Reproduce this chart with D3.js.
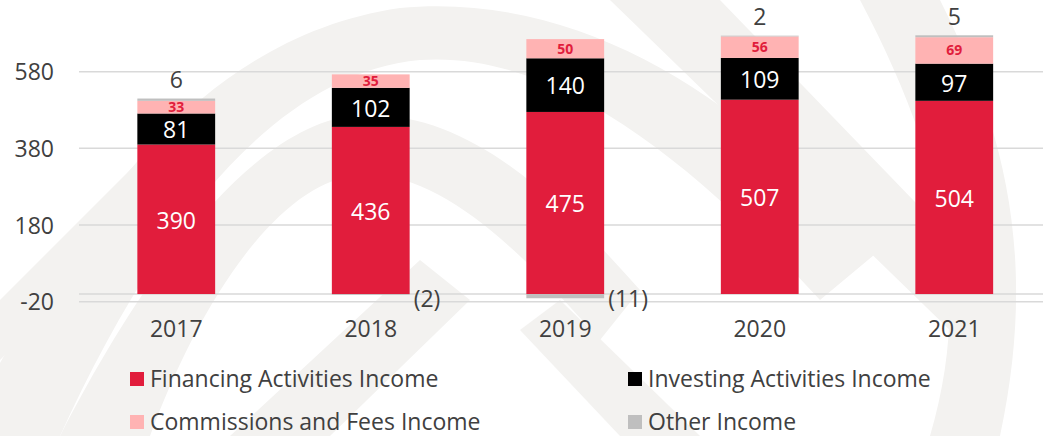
<!DOCTYPE html>
<html>
<head>
<meta charset="utf-8">
<script src="https://cdn.jsdelivr.net/npm/d3@7"></script>
<style>
  html, body { margin: 0; padding: 0; background: #fff; }
  svg { display: block; font-family: "Open Sans", sans-serif; }
</style>
</head>
<body>
<svg id="chart" width="1043" height="436"></svg>
<script>
// Data
const years = ['2017', '2018', '2019', '2020', '2021'];
const financing = [390, 436, 475, 507, 504];
const investing = [81, 102, 140, 109, 97];
const commissions = [33, 35, 50, 56, 69];
const other = [6, -2, -11, 2, 5];
const yTicks = [-20, 180, 380, 580];

const seriesNames = ['Financing Activities Income', 'Investing Activities Income',
                     'Commissions and Fees Income', 'Other Income'];
const keys = ['financing', 'investing', 'commissions', 'other'];
const colors = {
    financing: '#E11D3C',
    investing: '#000000',
    commissions: '#FFB3B3',
    other: '#BFBFBF'
};

const rows = years.map((y, i) => ({
    year: y,
    financing: financing[i],
    investing: investing[i],
    commissions: commissions[i],
    other: other[i]
}));

const svg = d3.select('#chart');
const W = 1043, H = 436;
const FS = 23;

// Faint logo watermark in the background
const wm = svg.append('g').attr('fill', '#F3F2F0').attr('stroke', 'none');
wm.append('path')
    .attr('d', 'M -40,436 C 60,250 180,40 400,8 C 600,-10 760,120 880,250 L 820,300 C 700,170 560,50 420,60 C 260,75 140,260 60,436 Z');
wm.append('path')
    .attr('d', 'M 60,436 C 150,260 260,120 360,115 C 470,110 560,200 640,290 L 600,340 C 520,250 440,170 360,175 C 280,180 200,300 150,436 Z');
wm.append('path')
    .attr('d', 'M 610,0 L 720,0 L 1000,290 L 960,340 Z');
wm.append('path')
    .attr('d', 'M 860,0 L 940,0 C 1000,120 1040,250 1000,436 L 930,436 C 970,300 950,170 860,0 Z');
wm.append('path')
    .attr('d', 'M 0,300 L 0,360 L 200,160 L 170,130 Z');
wm.append('path')
    .attr('d', 'M 230,436 L 330,436 L 470,300 L 420,260 Z');
wm.append('path')
    .attr('d', 'M 620,436 L 700,436 L 560,300 L 520,330 Z');

// Scales
const x = d3.scaleBand()
    .domain(years)
    .range([79, 1051.5])
    .paddingInner(0.6)
    .paddingOuter(0.3);

const y = d3.scaleLinear()
    .domain([-20, 580])
    .range([301.7, 71.7]);

// Gridlines (ticks plus the zero baseline)
svg.append('g')
    .selectAll('line')
    .data(yTicks.concat([0]))
    .join('line')
    .attr('x1', 79)
    .attr('x2', W)
    .attr('y1', d => y(d))
    .attr('y2', d => y(d))
    .attr('stroke', '#D9D9D9')
    .attr('stroke-width', 1.5);

// Y axis labels
const yAxis = d3.axisLeft(y).tickValues(yTicks).tickSize(0).tickPadding(0)
    .tickFormat(d => String(d));
const yAxisG = svg.append('g')
    .attr('transform', 'translate(54,0)')
    .call(yAxis);
yAxisG.select('.domain').remove();
yAxisG.selectAll('text')
    .attr('fill', '#404040')
    .attr('font-size', FS)
    .attr('font-family', '"Open Sans", sans-serif')
    .attr('dy', '0.36em');

// X axis labels
const xAxis = d3.axisBottom(x).tickSize(0).tickPadding(0);
const xAxisG = svg.append('g')
    .attr('transform', 'translate(0,329)')
    .call(xAxis);
xAxisG.select('.domain').remove();
xAxisG.selectAll('text')
    .attr('fill', '#404040')
    .attr('font-size', FS)
    .attr('font-family', '"Open Sans", sans-serif')
    .attr('dy', '0.36em');

// Stacked bars
const stack = d3.stack().keys(keys).offset(d3.stackOffsetDiverging);
const stacked = stack(rows);

const layers = svg.append('g')
    .selectAll('g')
    .data(stacked)
    .join('g')
    .attr('fill', d => colors[d.key]);

layers.selectAll('rect')
    .data(d => d.map(p => ({ key: d.key, p: p })))
    .join('rect')
    .attr('x', d => x(d.p.data.year))
    .attr('width', x.bandwidth())
    .attr('y', d => y(Math.max(d.p[0], d.p[1])))
    .attr('height', d => Math.abs(y(d.p[0]) - y(d.p[1])));

// Value labels
const labels = svg.append('g')
    .attr('font-family', '"Open Sans", sans-serif');

stacked.forEach(layer => {
    layer.forEach(p => {
        const val = p.data[layer.key];
        const cx = x(p.data.year) + x.bandwidth() / 2;
        const mid = (y(p[0]) + y(p[1])) / 2;
        if (layer.key === 'financing' || layer.key === 'investing') {
            labels.append('text')
                .attr('x', cx).attr('y', mid + 1)
                .attr('dy', '0.36em')
                .attr('text-anchor', 'middle')
                .attr('font-size', FS)
                .attr('fill', '#FFFFFF')
                .text(val);
        } else if (layer.key === 'commissions') {
            labels.append('text')
                .attr('x', cx).attr('y', mid)
                .attr('dy', '0.36em')
                .attr('text-anchor', 'middle')
                .attr('font-size', 14)
                .attr('font-weight', 'bold')
                .attr('fill', '#E11D3C')
                .text(val);
        } else if (val >= 0) {
            labels.append('text')
                .attr('x', cx).attr('y', y(p[1]) - 19)
                .attr('dy', '0.36em')
                .attr('text-anchor', 'middle')
                .attr('font-size', FS)
                .attr('fill', '#404040')
                .text(val);
        } else {
            labels.append('text')
                .attr('x', x(p.data.year) + x.bandwidth() + 4).attr('y', y(0) + 5)
                .attr('dy', '0.36em')
                .attr('text-anchor', 'start')
                .attr('font-size', FS)
                .attr('fill', '#404040')
                .text('(' + Math.abs(val) + ')');
        }
    });
});

// Legend
const legendPos = [
    { key: 'financing', x: 130, y: 379 },
    { key: 'investing', x: 628, y: 379 },
    { key: 'commissions', x: 130, y: 422 },
    { key: 'other', x: 628, y: 422 }
];
const legend = svg.append('g')
    .selectAll('g')
    .data(legendPos)
    .join('g')
    .attr('transform', d => `translate(${d.x},${d.y})`);
legend.append('rect')
    .attr('x', 0).attr('y', -7)
    .attr('width', 14).attr('height', 14)
    .attr('fill', d => colors[d.key]);
legend.append('text')
    .attr('x', 20).attr('y', 0)
    .attr('dy', '0.36em')
    .attr('font-size', FS)
    .attr('fill', '#404040')
    .text(d => seriesNames[keys.indexOf(d.key)]);
</script>
</body>
</html>
